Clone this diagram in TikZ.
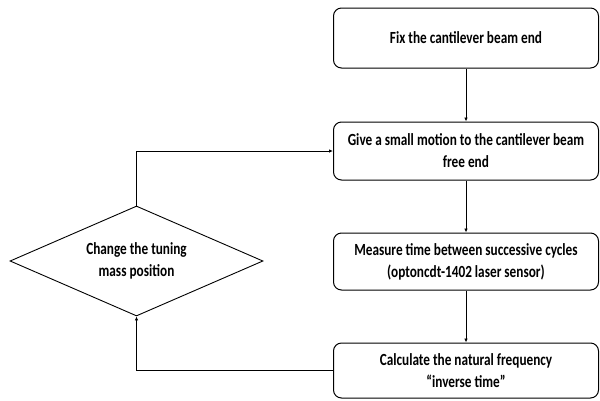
\documentclass[tikz,border=0pt]{standalone}
\usepackage{fontspec}
\setmainfont{Carlito}[FakeStretch=0.78]
\usetikzlibrary{arrows.meta}
\usetikzlibrary{shapes.geometric,positioning}

\begin{document}
\begin{tikzpicture}[x=1pt,y=-1pt]
  \tikzset{stepbox/.style = {shape=rectangle,draw,rounded corners=8pt,line width=1pt,minimum width=265pt,minimum height=58pt,inner sep=2pt,align=center,font=\fontsize{17}{22}\selectfont\bfseries}}
  \tikzset{choice/.style = {shape=diamond,draw,line width=0.9pt,minimum width=253pt,minimum height=110pt,aspect=2.3,inner sep=0pt,align=center,font=\fontsize{17}{22}\selectfont\bfseries}}
  \tikzset{edge/.style = {line width=0.9pt,-{Latex[length=4pt,width=3.5pt]}}}

  \useasboundingbox (0,0) rectangle (600,400);

	\node[stepbox,minimum height=60pt] (FIX) at (466,38) {Fix the cantilever beam end};
	\node[stepbox] (MOT) at (466,151) {Give a small motion to the cantilever beam\\free end};
	\node[stepbox,minimum height=57pt] (MEA) at (466,261.5) {Measure time between successive cycles\\(optoncdt-1402 laser sensor)};
	\node[stepbox,minimum height=55pt] (CAL) at (466,370.5) {Calculate the natural frequency\\``inverse time''};

	\node[choice] (TUN) at (136.5,261) {Change the tuning\\mass position};

    \foreach \from/\to in {FIX/MOT, MOT/MEA, MEA/CAL}
    \path[edge](\from) edge (\to);

    \draw[edge] (TUN.north) |- (MOT.west);
    \draw[edge] (CAL.west) -| (TUN.south);

\end{tikzpicture}
\end{document}
